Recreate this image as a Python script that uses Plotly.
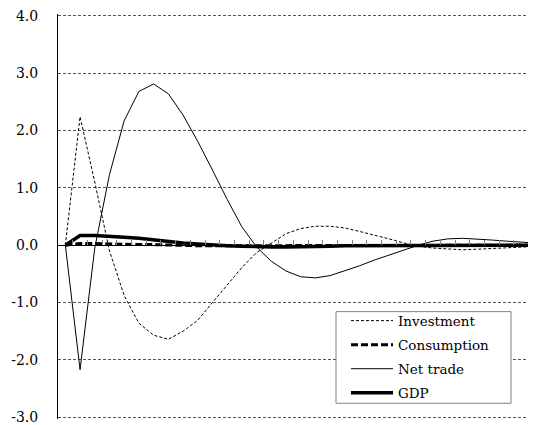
import plotly.graph_objects as go

periods = list(range(34))

investment = [0, 2.24, 1.10, -0.10, -0.88, -1.36, -1.57, -1.64, -1.50, -1.31,
              -1.00, -0.70, -0.39, -0.13, 0.04, 0.20, 0.29, 0.33, 0.33, 0.30,
              0.24, 0.18, 0.11, 0.04, -0.02, -0.05, -0.07, -0.08, -0.07, -0.06,
              -0.04, -0.03, -0.02, -0.01]

consumption = [0, 0.03, 0.03, 0.02, 0.02, 0.01, 0.01, 0.0, 0.0, -0.01,
               -0.01, -0.01, -0.01, -0.01, -0.01, -0.01, 0.0, 0.0, 0.0, 0.0,
               0.0, 0.0, 0.0, 0.0, 0.0, 0.0, 0.0, 0.0, 0.0, 0.0,
               0.0, 0.0, 0.0, 0.0]

net_trade = [0, -2.17, -0.05, 1.23, 2.17, 2.68, 2.81, 2.64, 2.27, 1.81,
             1.31, 0.80, 0.32, -0.03, -0.28, -0.45, -0.55, -0.57, -0.53, -0.45,
             -0.36, -0.26, -0.17, -0.08, 0.0, 0.07, 0.11, 0.12, 0.11, 0.09,
             0.07, 0.05, 0.03, 0.02]

gdp = [0, 0.17, 0.17, 0.16, 0.14, 0.12, 0.09, 0.06, 0.04, 0.02,
       0.0, -0.01, -0.02, -0.03, -0.03, -0.03, -0.03, -0.02, -0.02, -0.01,
       -0.01, 0.0, 0.0, 0.0, 0.0, 0.0, 0.0, 0.0, 0.0, 0.0,
       0.0, 0.0, 0.0, 0.0]

y_ticks = [-3, -2, -1, 0, 1, 2, 3, 4]
y_tick_labels = ["-3.0", "-2.0", "-1.0", "0.0", "1.0", "2.0", "3.0", "4.0"]

FONT = "DejaVu Serif"

fig = go.Figure()
fig.add_trace(go.Scatter(x=periods, y=investment, name="Investment", mode="lines",
                         legendgroup="a",
                         line=dict(color="black", width=1, dash="3px,2px")))
fig.add_trace(go.Scatter(x=periods, y=consumption, name="Consumption", mode="lines",
                         legendgroup="b",
                         line=dict(color="black", width=3, dash="7px,3px")))
fig.add_trace(go.Scatter(x=periods, y=net_trade, name="Net trade", mode="lines",
                         legendgroup="c",
                         line=dict(color="black", width=1)))
fig.add_trace(go.Scatter(x=periods, y=gdp, name="GDP", mode="lines",
                         legendgroup="d",
                         line=dict(color="black", width=3.5)))

# legend frame (white box with grey border) drawn above the traces
fig.add_shape(type="rect", xref="paper", yref="paper",
              x0=0.5816, x1=0.9477, y0=0.0388, y1=0.2651,
              fillcolor="white", line=dict(color="#808080", width=1),
              layer="above")

fig.update_layout(
    width=528, height=417,
    margin=dict(l=50, r=0, t=4.3, b=6.25),
    paper_bgcolor="white", plot_bgcolor="white",
    font=dict(family=FONT, size=14, color="black"),
    showlegend=True,
    legend=dict(
        x=0.6025, y=0.2806, xanchor="left", yanchor="top",
        bgcolor="rgba(0,0,0,0)", borderwidth=0,
        font=dict(family=FONT, size=13.5, color="black"),
        tracegroupgap=3.5, itemwidth=42,
    ),
    xaxis=dict(
        range=[-0.5, 32.0], showgrid=False, zeroline=False,
        anchor="free", position=3/7,
        showline=True, linecolor="black", linewidth=1,
        ticks="inside", ticklen=5, tickcolor="#808080", tickwidth=1,
        tick0=0.5, dtick=1, showticklabels=False,
    ),
    yaxis=dict(
        range=[-3.03, 4.03], tickvals=y_ticks, ticktext=y_tick_labels,
        showgrid=True, gridcolor="#555555", gridwidth=1, griddash="3px,2px",
        zeroline=False, showline=True, linecolor="black", linewidth=1,
        ticks="", ticklabelstandoff=16, ticklabeloverflow="allow",
        tickfont=dict(family=FONT, size=14, color="black"),
    ),
)

fig.write_html("out.html")
